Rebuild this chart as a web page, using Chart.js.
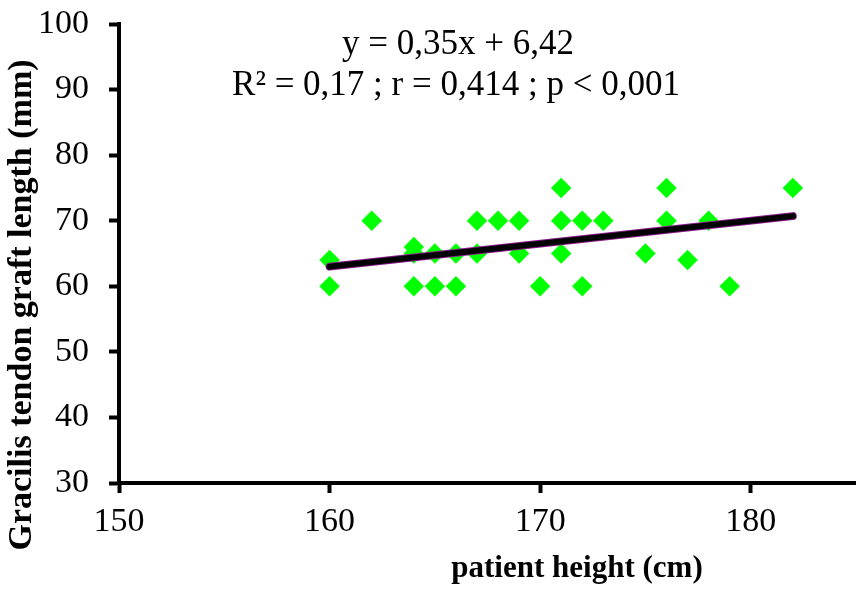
<!DOCTYPE html>
<html>
<head>
<meta charset="utf-8">
<script src="https://cdn.jsdelivr.net/npm/chart.js@4/dist/chart.umd.min.js"></script>
<style>
html,body{margin:0;padding:0;background:#fff;}
#wrap{width:856px;height:589px;position:relative;}
</style>
</head>
<body>
<div id="wrap"><canvas id="c" width="856" height="589"></canvas></div>
<script>
// Data
const heightCm = [160,160,162,164,164,164,165,165,166,166,167,167,168,169,169,170,171,171,171,172,172,173,175,176,176,177,178,179,182];
const graftMm  = [ 64, 60, 70, 66, 65, 60, 65, 60, 65, 60, 70, 65, 70, 70, 65, 60, 75, 70, 65, 70, 60, 70, 65, 75, 70, 64, 70, 60, 75];
const trendX = [160, 182];
const trendY = [63.0, 70.7];
const xTicks = [150, 160, 170, 180];
const yTicks = [30, 40, 50, 60, 70, 80, 90, 100];
const equationLines = ['y = 0,35x + 6,42', 'R\u00B2 = 0,17 ; r = 0,414 ; p < 0,001'];
const xTitle = 'patient height (cm)';
const yTitle = 'Gracilis tendon graft length (mm)';

const serif = '"Liberation Serif", "Times New Roman", serif';
const points = heightCm.map((x, i) => ({x, y: graftMm[i]}));
const trend = trendX.map((x, i) => ({x, y: trendY[i]}));

const textPlugin = {
  id: 'texts',
  afterDraw(chart) {
    const ctx = chart.ctx;
    ctx.save();
    ctx.fillStyle = '#000';
    ctx.textAlign = 'center';
    ctx.textBaseline = 'alphabetic';
    ctx.font = '35px ' + serif;
    ctx.fillText(equationLines[0], 458, 54);
    ctx.fillText(equationLines[1], 456, 95);
    ctx.font = 'bold 31px ' + serif;
    ctx.fillText(xTitle, 577, 577);
    ctx.translate(31, 305);
    ctx.rotate(-Math.PI / 2);
    ctx.font = 'bold 34px ' + serif;
    ctx.fillText(yTitle, 0, 0);
    ctx.restore();
  }
};

new Chart(document.getElementById('c'), {
  type: 'scatter',
  data: {
    datasets: [
      {
        data: points,
        pointStyle: 'rectRot',
        pointRadius: 10,
        pointBorderWidth: 0.5,
        backgroundColor: '#00FF00',
        borderColor: '#00FF00',
        order: 3
      },
      {
        data: trend,
        showLine: true,
        borderColor: '#8B1A8B',
        borderWidth: 8,
        borderCapStyle: 'round',
        pointRadius: 0,
        order: 2
      },
      {
        data: trend,
        showLine: true,
        borderColor: '#000000',
        borderWidth: 6,
        borderCapStyle: 'round',
        pointRadius: 0,
        order: 1
      }
    ]
  },
  options: {
    responsive: false,
    animation: false,
    devicePixelRatio: 1,
    layout: { autoPadding: false, padding: { top: 24, right: 0, bottom: 0, left: 0 } },
    plugins: { legend: { display: false }, tooltip: { enabled: false } },
    scales: {
      x: {
        type: 'linear',
        min: 150, max: 185,
        afterBuildTicks(s) { s.ticks = xTicks.map(v => ({value: v})); },
        afterFit(s) { s.height = 106; s.paddingLeft = 0; s.paddingRight = 0; },
        ticks: { color: '#000', font: { family: serif, size: 34 }, padding: 9, maxRotation: 0 },
        grid: { display: true, drawOnChartArea: false, drawTicks: true, tickLength: 10, tickWidth: 4, tickColor: '#000' },
        border: { display: true, color: '#000', width: 4 }
      },
      y: {
        type: 'linear',
        min: 30, max: 100,
        afterBuildTicks(s) { s.ticks = yTicks.map(v => ({value: v})); },
        afterFit(s) { s.width = 119; s.paddingTop = 0; s.paddingBottom = 0; },
        ticks: { color: '#000', font: { family: serif, size: 34 }, padding: 20 },
        grid: { display: true, drawOnChartArea: false, drawTicks: true, tickLength: 10, tickWidth: 4, tickColor: '#000' },
        border: { display: true, color: '#000', width: 4 }
      }
    }
  },
  plugins: [textPlugin]
});
</script>
</body>
</html>
